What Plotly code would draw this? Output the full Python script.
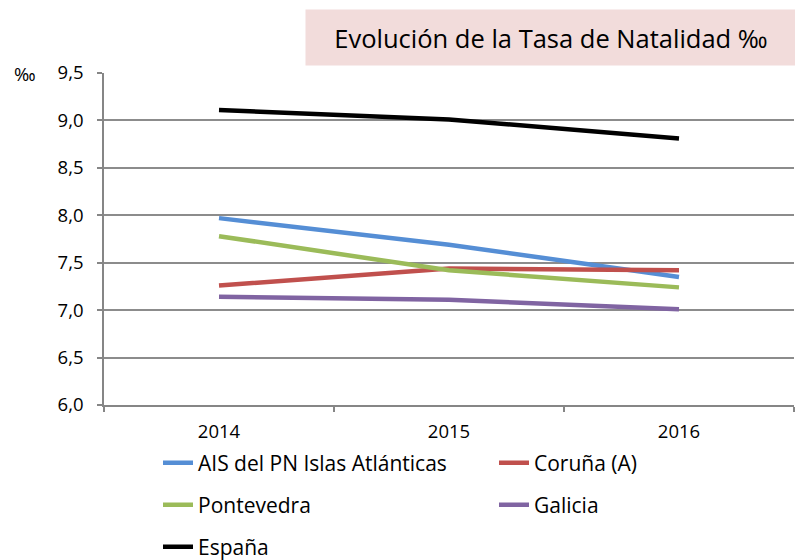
import plotly.graph_objects as go

years = ["2014", "2015", "2016"]
ais = [7.97, 7.69, 7.35]
coruna = [7.26, 7.44, 7.42]
pontevedra = [7.78, 7.42, 7.24]
galicia = [7.14, 7.11, 7.01]
espana = [9.11, 9.01, 8.81]

series = [
    ("AIS del PN Islas Atlánticas", ais, "#558ED5", "legend"),
    ("Coruña (A)", coruna, "#C0504D", "legend"),
    ("Pontevedra", pontevedra, "#9BBB59", "legend2"),
    ("Galicia", galicia, "#8064A2", "legend2"),
    ("España", espana, "#000000", "legend3"),
]

FONT = "Open Sans"
W, H = 795, 560
L, R, T, B = 104, 1, 73, 155
PW, PH = W - L - R, H - T - B

def px(x):
    return (x - L) / PW

def py(y):
    return (H - B - y) / PH

fig = go.Figure()
for name, vals, color, lg in series:
    fig.add_trace(go.Scatter(
        x=years, y=vals, name=name, mode="lines",
        line=dict(color=color, width=4.5),
        legend=lg,
    ))

legend_common = dict(
    orientation="h", font=dict(family=FONT, size=21, color="#000"),
    bgcolor="rgba(0,0,0,0)", entrywidth=291, entrywidthmode="pixels",
    xanchor="left", yanchor="middle", tracegroupgap=0,
)

fig.update_layout(
    width=W, height=H,
    margin=dict(l=L, r=R, t=T, b=B, autoexpand=False),
    paper_bgcolor="white", plot_bgcolor="white",
    separators=",.",
    font=dict(family=FONT, size=18, color="#000"),
    xaxis=dict(
        type="category", range=[-0.5, 2.5],
        showline=True, linecolor="#868686", linewidth=1.5,
        ticks="outside", tickson="boundaries", ticklen=5, tickcolor="#868686", tickwidth=1.5,
        showgrid=False, tickfont=dict(family=FONT, size=18.5, color="#000"),
        ticklabelstandoff=9,
    ),
    yaxis=dict(
        range=[6, 9.5], dtick=0.5, tick0=6, tickformat=".1f",
        showline=True, linecolor="#868686", linewidth=1.5,
        ticks="outside", ticklen=5, tickcolor="#868686", tickwidth=1.5,
        showgrid=True, gridcolor="#8C8C8C", gridwidth=1.5,
        zeroline=False, tickfont=dict(family=FONT, size=18.5, color="#000"),
        ticklabelstandoff=10,
    ),
    legend=dict(x=px(158), y=py(463), **legend_common),
    legend2=dict(x=px(158), y=py(505), **legend_common),
    legend3=dict(x=px(158), y=py(547), **legend_common),
)

fig.add_annotation(
    xref="paper", yref="paper", x=px(305), y=py(9), xanchor="left", yanchor="top",
    width=490, height=55, borderpad=0, bgcolor="#F2DCDB", showarrow=False,
    text="Evolución de la Tasa de Natalidad ‰",
    font=dict(family=FONT, size=25.5, color="#000"), align="center", valign="middle",
)
fig.add_annotation(
    xref="paper", yref="paper", x=px(25), y=py(73), xanchor="center", yanchor="middle",
    showarrow=False, text="‰", font=dict(family=FONT, size=18.5, color="#000"),
)

fig.write_html("out.html", config={"displayModeBar": False},
               post_script="document.body.style.margin='0';")
